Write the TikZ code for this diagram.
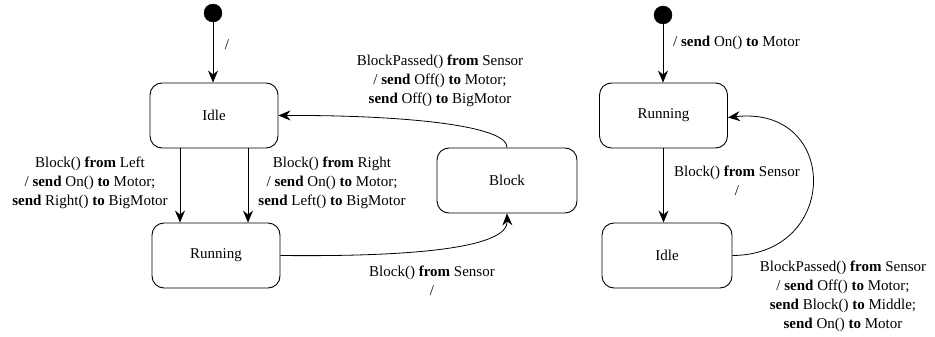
\documentclass[tikz,border=0pt]{standalone}
\usepackage{fontspec}
\setmainfont{Liberation Serif}
\usetikzlibrary{arrows.meta}

\newcommand{\kw}[1]{\textbf{#1}}

\begin{document}
\begin{tikzpicture}[x=1pt, y=-1pt,
    every node/.style={font=\fontsize{15}{19}\selectfont},
    state/.style={draw, rounded corners=12pt, minimum width=128pt, minimum height=65pt, line width=0.9pt},
    start/.style={draw, fill, shape=circle, minimum size=18pt, inner sep=0pt},
    trans/.style={line width=0.8pt, -{Stealth[length=12pt, width=10pt, inset=4pt]}},
    lbl/.style={align=center, inner sep=0pt}]

    \useasboundingbox (0,0) rectangle (935,337);

    % left machine
    \node(init)[start] at (213,13) {};
    \node(idle)[state] at (214,115.5) {Idle};
    \node(running)[state] at (216,255.5) {Running};
    \node(block)[state, minimum width=140pt] at (507,180.5) {Block};

    \draw[trans] (init) -- (init |- idle.north);
    \foreach \dx in {-34, 34}
    {
        \draw[trans] ([xshift=\dx pt]idle.south) -- ([xshift=\dx pt]idle.south |- running.north);
    }
    \draw[trans] (block.north) .. controls (508,125) and (400,115) .. (idle.east);
    \draw[trans] (running.east) .. controls (420,257) and (508,247) .. (block.south);

    \node(l0)[lbl] at (227,45) {/};
    \node(l1)[lbl] at (90,183) {Block() \kw{from} Left\\/ \kw{send} On() \kw{to} Motor;\\\kw{send} Right() \kw{to} BigMotor};
    \node(l2)[lbl] at (332,183) {Block() \kw{from} Right\\/ \kw{send} On() \kw{to} Motor;\\\kw{send} Left() \kw{to} BigMotor};
    \node(l3)[lbl] at (440,81) {BlockPassed() \kw{from} Sensor\\/ \kw{send} Off() \kw{to} Motor;\\\kw{send} Off() \kw{to} BigMotor};
    \node(l4)[lbl] at (432,281) {Block() \kw{from} Sensor\\/};

    % right machine
    \node(init2)[start] at (663,15) {};
    \node(running2)[state] at (663.5,115.5) {Running};
    \node(idle2)[state, minimum width=130pt] at (667,255.5) {Idle};

    \draw[trans] (init2) -- (init2 |- running2.north);
    \draw[trans] (running2.south) -- (running2.south |- idle2.north);
    \draw[trans] (idle2.east) .. controls (840,255) and (840,105) .. ([yshift=-2pt]running2.east);

    \node(r0)[lbl, anchor=west] at (673,43) {/ \kw{send} On() \kw{to} Motor};
    \node(r1)[lbl] at (737,181) {Block() \kw{from} Sensor\\/};
    \node(r2)[lbl] at (843,296) {BlockPassed() \kw{from} Sensor\\/ \kw{send} Off() \kw{to} Motor;\\\kw{send} Block() \kw{to} Middle;\\\kw{send} On() \kw{to} Motor};
\end{tikzpicture}
\end{document}
